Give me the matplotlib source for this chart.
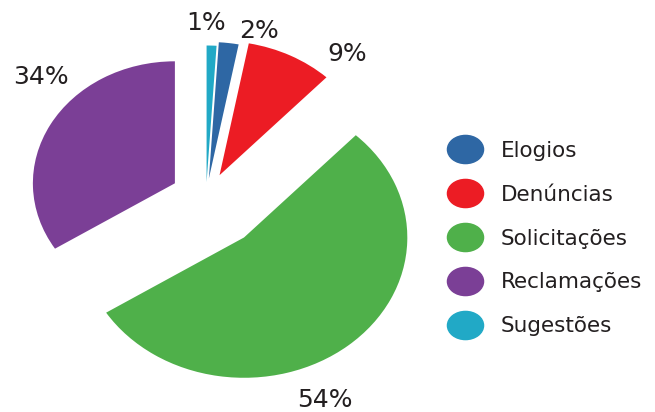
import matplotlib
matplotlib.use("Agg")
import matplotlib.pyplot as plt
from matplotlib.lines import Line2D
from matplotlib.path import Path
from matplotlib.transforms import Affine2D

# data (clockwise from the top)
categories = ["Sugestões", "Elogios", "Denúncias", "Solicitações", "Reclamações"]
values = [1, 2, 9, 54, 34]
colors = ["#21A9C6", "#2E67A4", "#EC1C24", "#4FB04A", "#7B3F96"]
legend_order = ["Elogios", "Denúncias", "Solicitações", "Reclamações", "Sugestões"]

# layout / style
explode = [0.13, 0.16, 0.21, 0.42, 0.25]
radii = [1.12, 1.12, 1.1, 1.15, 1.0]
label_xy = [(0.0, 1.459), (0.373, 1.393), (0.993, 1.197), (0.838, -1.639), (-1.162, 1.016)]
text_color = "#231F20"

plt.rcParams['font.family'] = ['DejaVu Sans']

fig = plt.figure(figsize=(6.55, 4.12), dpi=100)
ax = fig.add_axes([0, 0, 440 / 655, 1])

wedges, texts, autotexts = ax.pie(values, colors=colors, explode=explode,
                                  startangle=90, counterclock=False,
                                  autopct=lambda p: f"{p:.0f}%",
                                  pctdistance=1.25,
                                  wedgeprops=dict(linewidth=0))
for w, r in zip(wedges, radii):
    w.set_radius(r)
for t, xy in zip(autotexts, label_xy):
    t.set_position(xy)
    t.set_fontsize(18)
    t.set_color(text_color)
    t.set_ha("center")
    t.set_va("center_baseline")

# the original is stretched a bit sideways
ax.set_aspect("auto")
ax.set_xlim(-206 / 142, 234 / 142)
ax.set_ylim(-214 / 122, 198 / 122)
ax.axis("off")

# slightly flattened dots, like the original legend
oval = Path.unit_circle().transformed(Affine2D().scale(1.0, 0.78))
handles = []
for name in legend_order:
    c = colors[categories.index(name)]
    handles.append(Line2D([], [], marker=oval, linestyle="none", markersize=26,
                          markerfacecolor=c, markeredgecolor=c, label=name))
fig.legend(handles=handles, loc="center left", bbox_to_anchor=(448 / 655, 0.421),
           frameon=False, fontsize=15.5, labelspacing=1.11, handletextpad=0.84,
           labelcolor=text_color, handlelength=1.6, borderpad=0, borderaxespad=0)

fig.savefig("out.png", dpi=100)
